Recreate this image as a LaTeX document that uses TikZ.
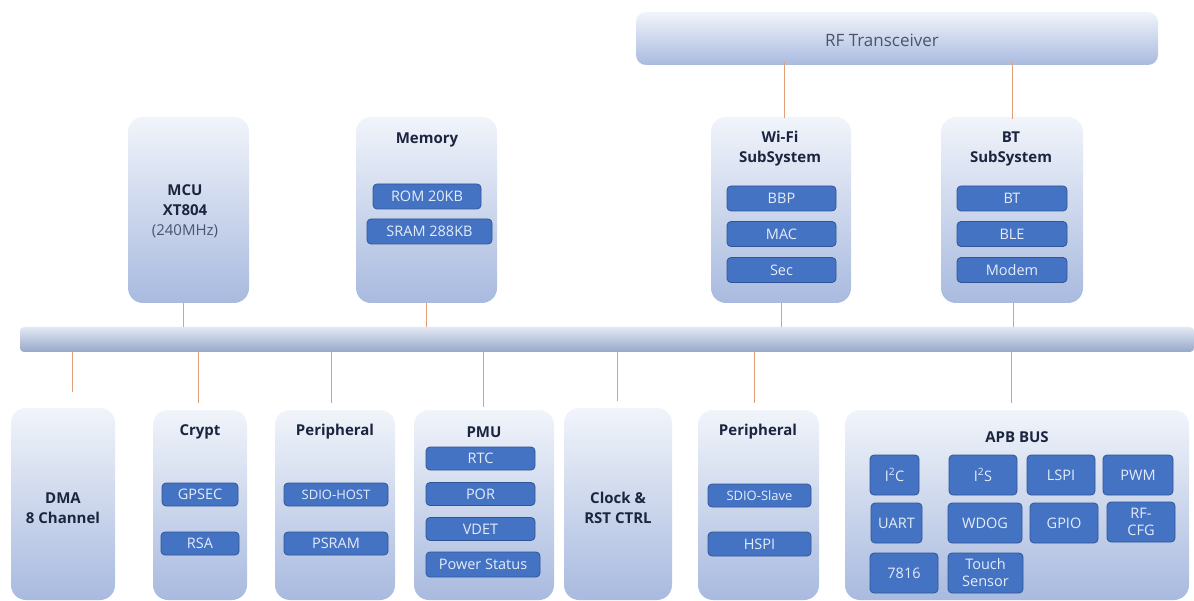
\documentclass[tikz,border=0pt]{standalone}
\usepackage{fontspec}
\setmainfont{Open Sans}
\usepackage{tikz}
\usepackage{xcolor}
\usetikzlibrary{positioning}

\definecolor{boxtop}{HTML}{F1F4FA}
\definecolor{boxbot}{HTML}{A8BADF}
\definecolor{unitfill}{HTML}{4573C4}
\definecolor{unitline}{HTML}{2F5597}
\definecolor{unittext}{HTML}{E4ECF8}
\definecolor{titletext}{HTML}{1B2540}
\definecolor{greytext}{HTML}{4A5470}
\definecolor{linkcol}{HTML}{E2A07A}

\begin{document}
\begin{tikzpicture}[x=1pt,y=-1pt,
        block/.style={rounded corners=15pt, top color=boxtop, bottom color=boxbot, draw=none, inner sep=0pt},
        unit/.style={rounded corners=4pt, fill=unitfill, draw=unitline, line width=0.8pt, text=unittext, inner sep=0pt, align=center, font=\fontsize{14.5}{17}\selectfont},
        title/.style={text=titletext, align=center, font=\fontsize{15}{20}\selectfont\bfseries},
        link/.style={draw=linkcol, line width=1pt}
        ]
            \useasboundingbox (0,0) rectangle (1194,601);

            % top row
            \node[block, rounded corners=10pt, minimum width=522, minimum height=53] (rf) at (897,38.5) {};
            \node[text=greytext, font=\fontsize{17}{20}\selectfont] (rfT) at (882,40) {RF Transceiver};

            \node[block, minimum width=121, minimum height=186] (mcu) at (188.5,210) {};
            \node[block, minimum width=141, minimum height=186] (mem) at (426.5,210) {};
            \node[block, minimum width=140, minimum height=186] (wifi) at (781,210) {};
            \node[block, minimum width=142, minimum height=186] (bt) at (1012,210) {};

            \node[title] (mcuT) at (185,211) {MCU\\XT804\\{\mdseries\color{greytext}(240MHz)}};
            \node[title] (memT) at (427,140) {Memory};
            \node[title] (wifiT) at (780,149) {Wi-Fi\\SubSystem};
            \node[title] (btT) at (1011,149) {BT\\SubSystem};

            \node[unit, minimum width=108, minimum height=25] (rom) at (427,196.5) {ROM 20KB};
            \node[unit, minimum width=125, minimum height=25] (sram) at (429.5,231.5) {SRAM 288KB};

            \node[unit, minimum width=109, minimum height=25] (bbp) at (781.5,198.5) {BBP};
            \node[unit, minimum width=109, minimum height=25] (mac) at (781.5,234) {MAC};
            \node[unit, minimum width=109, minimum height=25] (sec) at (781.5,270) {Sec};

            \node[unit, minimum width=110, minimum height=25] (btU) at (1012,198.5) {BT};
            \node[unit, minimum width=110, minimum height=25] (ble) at (1012,234) {BLE};
            \node[unit, minimum width=110, minimum height=25] (modem) at (1012,270) {Modem};

            % bus
            \node[block, rounded corners=4pt, top color=boxtop!80!boxbot, bottom color=boxbot!90!black, minimum width=1174, minimum height=25] (bus) at (607,339.5) {};

            % bottom row
            \node[block, minimum width=104, minimum height=192] (dma) at (63,504) {};
            \node[block, minimum width=94, minimum height=190] (crypt) at (200,505) {};
            \node[block, minimum width=120, minimum height=190] (peri) at (335,505) {};
            \node[block, minimum width=140, minimum height=190] (pmu) at (484,505) {};
            \node[block, minimum width=108, minimum height=192] (clk) at (618,504) {};
            \node[block, minimum width=121, minimum height=190] (periB) at (758.5,505) {};
            \node[block, minimum width=344, minimum height=190] (apb) at (1017,505) {};

            \node[title] (dmaT) at (63,508) {DMA\\8 Channel};
            \node[title] (cryptT) at (200,432) {Crypt};
            \node[title] (periT) at (335,432) {Peripheral};
            \node[title] (pmuT) at (484,432) {PMU};
            \node[title] (clkT) at (618,508) {Clock \&\\RST CTRL};
            \node[title] (periBT) at (758,432) {Peripheral};
            \node[title] (apbT) at (1017,437) {APB BUS};

            \node[unit, minimum width=76, minimum height=23] (gpsec) at (200,494.5) {GPSEC};
            \node[unit, minimum width=78, minimum height=23] (rsa) at (200,543.5) {RSA};

            \node[unit, minimum width=104, minimum height=23, font=\fontsize{13}{15}\selectfont] (sdioH) at (336,494.5) {SDIO-HOST};
            \node[unit, minimum width=104, minimum height=23] (psram) at (336,543.5) {PSRAM};

            \node[unit, minimum width=109, minimum height=23] (rtc) at (480.5,458.5) {RTC};
            \node[unit, minimum width=109, minimum height=23] (por) at (480.5,494) {POR};
            \node[unit, minimum width=109, minimum height=23] (vdet) at (480.5,529) {VDET};
            \node[unit, minimum width=114, minimum height=25] (pwr) at (483,564.5) {Power Status};

            \node[unit, minimum width=103, minimum height=23, font=\fontsize{13}{15}\selectfont] (sdioS) at (759.5,495.5) {SDIO-Slave};
            \node[unit, minimum width=103, minimum height=24] (hspi) at (759.5,544) {HSPI};

            \node[unit, minimum width=49, minimum height=40] (iic) at (894.5,475) {I\textsuperscript{2}C};
            \node[unit, minimum width=68, minimum height=40] (iis) at (983,475) {I\textsuperscript{2}S};
            \node[unit, minimum width=68, minimum height=40] (lspi) at (1061,475) {LSPI};
            \node[unit, minimum width=70, minimum height=40] (pwm) at (1138,475) {PWM};
            \node[unit, minimum width=51, minimum height=40] (uart) at (896.5,523) {UART};
            \node[unit, minimum width=74, minimum height=40] (wdog) at (985,523) {WDOG};
            \node[unit, minimum width=68, minimum height=40] (gpio) at (1064,523) {GPIO};
            \node[unit, minimum width=68, minimum height=40] (rfcfg) at (1141,522) {RF-\\CFG};
            \node[unit, minimum width=68, minimum height=40] (iso) at (904,573) {7816};
            \node[unit, minimum width=75, minimum height=40] (touch) at (985.5,573) {Touch\\Sensor};

            % connectors
            \coordinate (dmaL) at (72,392);
            \coordinate (cryptL) at (198,403);
            \coordinate (periL) at (331,403);
            \coordinate (pmuL) at (483,407);
            \coordinate (clkL) at (617,401);
            \coordinate (periBL) at (754,403);
            \coordinate (apbL) at (1011,403);

            \draw[link] ([yshift=3]rf.south -| wifi.north) ++(3,0) -- ([xshift=3,yshift=-1]wifi.north);
            \draw[link] ([yshift=3]rf.south -| bt.north) -- ([yshift=-2]bt.north);
            \draw[link] ([xshift=-5.5]mcu.south) -- ([xshift=-5.5]mcu.south |- bus.north);
            \draw[link] (mem.south) -- (mem.south |- bus.north);
            \draw[link] (wifi.south) -- (wifi.south |- bus.north);
            \draw[link] ([xshift=1]bt.south) -- ([xshift=1]bt.south |- bus.north);

            \draw[link] (bus.south -| dmaL) -- (dmaL);
            \draw[link] (bus.south -| cryptL) -- (cryptL);
            \draw[link] (bus.south -| periL) -- (periL);
            \draw[link] ([yshift=4]bus.south -| pmuL) -- (pmuL);
            \draw[link] (bus.south -| clkL) -- (clkL);
            \draw[link] (bus.south -| periBL) -- (periBL);
            \draw[link] (bus.south -| apbL) -- (apbL);

        \end{tikzpicture}
\end{document}
